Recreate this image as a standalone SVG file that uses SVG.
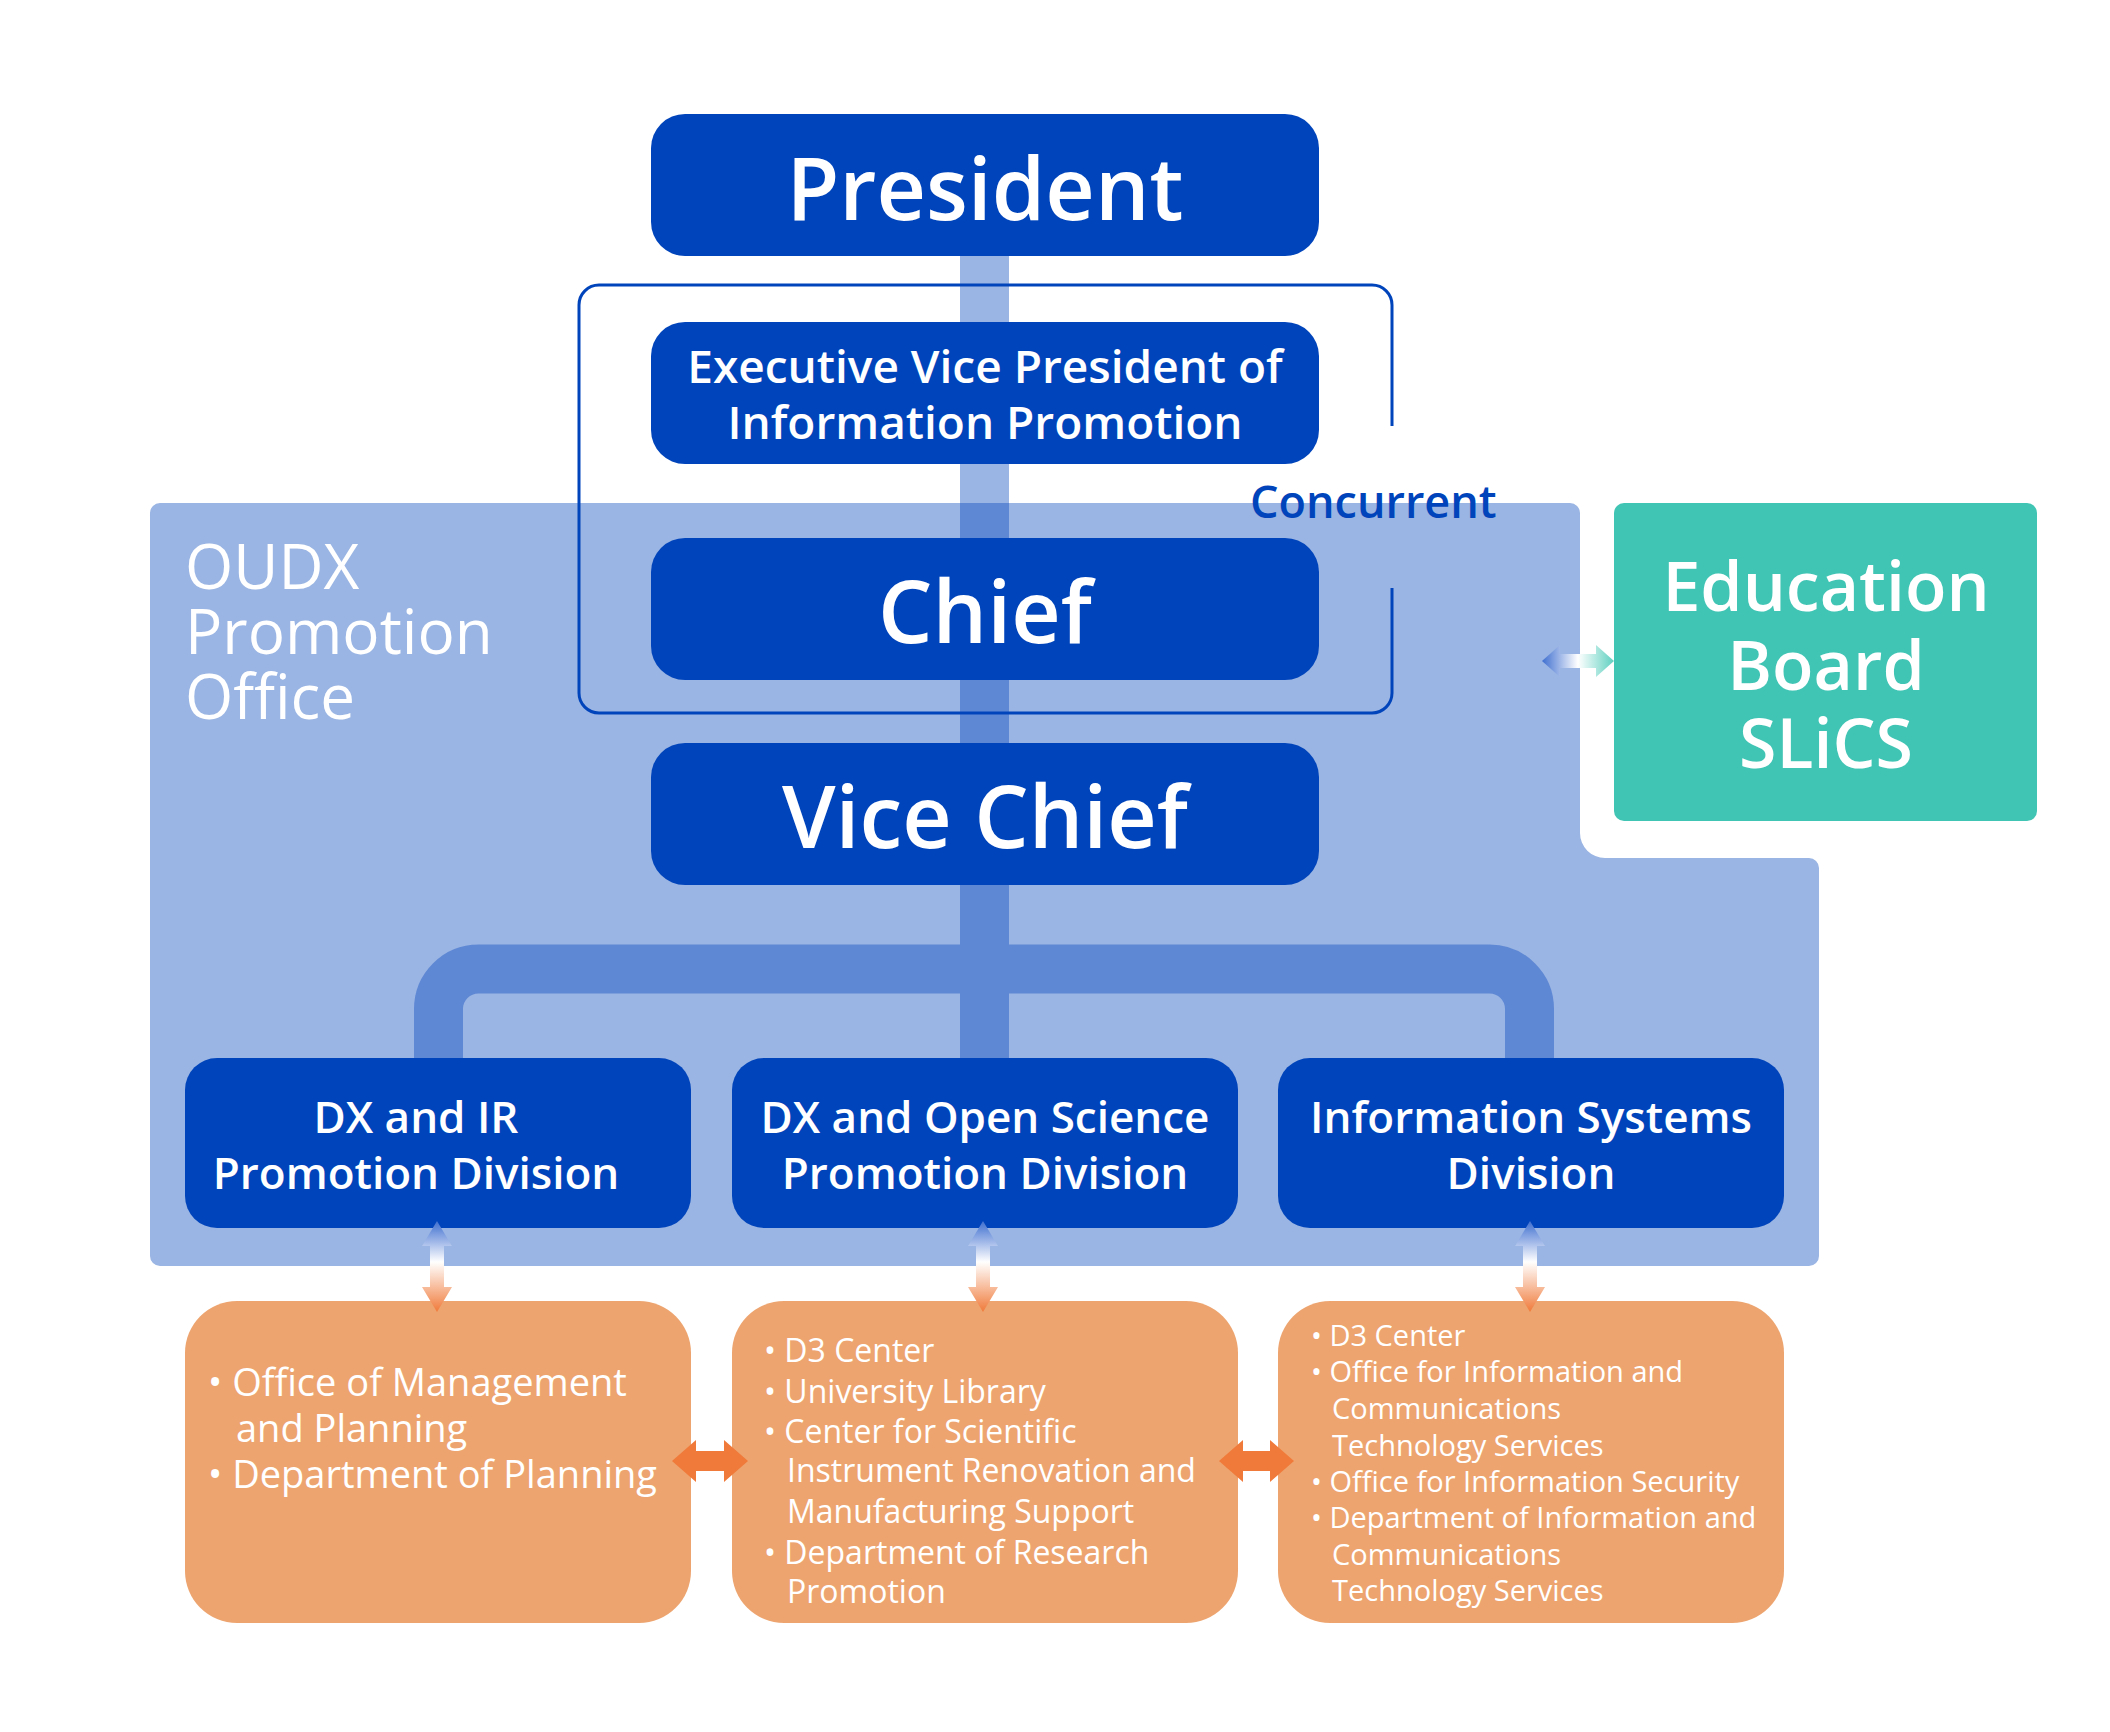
<svg xmlns="http://www.w3.org/2000/svg" width="2110" height="1732" viewBox="0 0 2110 1732">
<defs>
<style>
.db{fill:#0044bb}
.or{fill:#eda46f}
.w{fill:#fff;font-family:"Open Sans","Liberation Sans",sans-serif}
.t{fill:#fff;font-family:"Open Sans","Liberation Sans",sans-serif;font-weight:600}
</style>
<linearGradient id="gv" x1="0" y1="0" x2="0" y2="1">
<stop offset="0" stop-color="#3f6fd0"/><stop offset="0.45" stop-color="#ffffff"/><stop offset="1" stop-color="#f07a3a"/>
</linearGradient>
<linearGradient id="gh" x1="0" y1="0" x2="1" y2="0">
<stop offset="0" stop-color="#3f6fd0"/><stop offset="0.5" stop-color="#ffffff"/><stop offset="1" stop-color="#5fd0c0"/>
</linearGradient>
</defs>
<rect width="2110" height="1732" fill="#fff"/>
<g id="office">
<path d="M160 503 H1570 a10 10 0 0 1 10 10 V833 a25 25 0 0 0 25 25 H1809 a10 10 0 0 1 10 10 V1256 a10 10 0 0 1 -10 10 H160 a10 10 0 0 1 -10 -10 V513 a10 10 0 0 1 10 -10 Z" fill="#9ab5e3"/>
<text class="w" font-size="62"><tspan x="185" y="589">OUDX</tspan><tspan x="185" y="654">Promotion</tspan><tspan x="185" y="719">Office</tspan></text>
</g>
<g id="lines">
<rect x="960" y="256" width="49" height="247" fill="#9ab5e3"/>
<rect x="960" y="503" width="49" height="555" fill="#5f88d4"/>
<path d="M438.5 1058 V1009 a40 40 0 0 1 40 -40 H1489.5 a40 40 0 0 1 40 40 V1058" fill="none" stroke="#5f88d4" stroke-width="49"/>
<path d="M579 285 m20 0 H1372 a20 20 0 0 1 20 20 V426 M1392 588 V693 a20 20 0 0 1 -20 20 H599 a20 20 0 0 1 -20 -20 V305 a20 20 0 0 1 20 -20" fill="none" stroke="#0044bb" stroke-width="3"/>
</g>
<text x="1250" y="518" font-family="Open Sans,Liberation Sans,sans-serif" font-weight="600" font-size="45" fill="#0044bb">Concurrent</text>
<g id="president"><rect class="db" x="651" y="114" width="668" height="142" rx="34"/><text class="t" x="985" y="220" font-size="86" text-anchor="middle">President</text></g>
<g id="evp"><rect class="db" x="651" y="322" width="668" height="142" rx="34"/><text class="t" font-size="46" text-anchor="middle"><tspan x="985" y="383">Executive Vice President of</tspan><tspan x="985" y="439">Information Promotion</tspan></text></g>
<g id="chief"><rect class="db" x="651" y="538" width="668" height="142" rx="34"/><text class="t" x="985" y="643" font-size="86" text-anchor="middle">Chief</text></g>
<g id="vicechief"><rect class="db" x="651" y="743" width="668" height="142" rx="34"/><text class="t" x="985" y="848" font-size="86" text-anchor="middle">Vice Chief</text></g>
<g id="edu"><rect x="1614" y="503" width="423" height="318" rx="10" fill="#40c4b4"/><text class="t" font-size="68" text-anchor="middle"><tspan x="1826" y="611">Education</tspan><tspan x="1826" y="690">Board</tspan><tspan x="1826" y="768">SLiCS</tspan></text></g>
<g id="div1"><rect class="db" x="185" y="1058" width="506" height="170" rx="32"/><text class="t" font-size="44" text-anchor="middle"><tspan x="416" y="1133">DX and IR</tspan><tspan x="416" y="1189">Promotion Division</tspan></text></g>
<g id="div2"><rect class="db" x="732" y="1058" width="506" height="170" rx="32"/><text class="t" font-size="44" text-anchor="middle"><tspan x="985" y="1133">DX and Open Science</tspan><tspan x="985" y="1189">Promotion Division</tspan></text></g>
<g id="div3"><rect class="db" x="1278" y="1058" width="506" height="170" rx="32"/><text class="t" font-size="44" text-anchor="middle"><tspan x="1531" y="1133">Information Systems</tspan><tspan x="1531" y="1189">Division</tspan></text></g>
<g id="units1"><rect class="or" x="185" y="1301" width="506" height="322" rx="52"/><text class="w" font-size="38"><tspan x="208" y="1396">• Office of Management</tspan><tspan x="236" y="1442">and Planning</tspan><tspan x="208" y="1488">• Department of Planning</tspan></text></g>
<g id="units2"><rect class="or" x="732" y="1301" width="506" height="322" rx="52"/><text class="w" font-size="32"><tspan x="764" y="1362">• D3 Center</tspan><tspan x="764" y="1403">• University Library</tspan><tspan x="764" y="1443">• Center for Scientific</tspan><tspan x="787" y="1482">Instrument Renovation and</tspan><tspan x="787" y="1523">Manufacturing Support</tspan><tspan x="764" y="1564">• Department of Research</tspan><tspan x="787" y="1603">Promotion</tspan></text></g>
<g id="units3"><rect class="or" x="1278" y="1301" width="506" height="322" rx="52"/><text class="w" font-size="29"><tspan x="1311" y="1346">• D3 Center</tspan><tspan x="1311" y="1382">• Office for Information and</tspan><tspan x="1332" y="1419">Communications</tspan><tspan x="1332" y="1456">Technology Services</tspan><tspan x="1311" y="1492">• Office for Information Security</tspan><tspan x="1311" y="1528">• Department of Information and</tspan><tspan x="1332" y="1565">Communications</tspan><tspan x="1332" y="1601">Technology Services</tspan></text></g>
<g id="connectors">
<g fill="url(#gv)">
<polygon points="437,1221 452,1246 444,1246 444,1287 452,1287 437,1312 422,1287 430,1287 430,1246 422,1246"/>
<polygon points="983,1221 998,1246 990,1246 990,1287 998,1287 983,1312 968,1287 976,1287 976,1246 968,1246"/>
<polygon points="1530,1221 1545,1246 1537,1246 1537,1287 1545,1287 1530,1312 1515,1287 1523,1287 1523,1246 1515,1246"/>
</g>
<g fill="#f07a3a">
<polygon points="672,1461 696,1440 696,1451 724,1451 724,1440 748,1461 724,1482 724,1471 696,1471 696,1482"/>
<polygon points="1219,1461 1243,1440 1243,1451 1270,1451 1270,1440 1294,1461 1270,1482 1270,1471 1243,1471 1243,1482"/>
</g>
<polygon points="1542,661 1560,645 1560,654 1596,654 1596,645 1614,661 1596,677 1596,668 1560,668 1560,677" fill="url(#gh)"/>
</g>
</svg>
